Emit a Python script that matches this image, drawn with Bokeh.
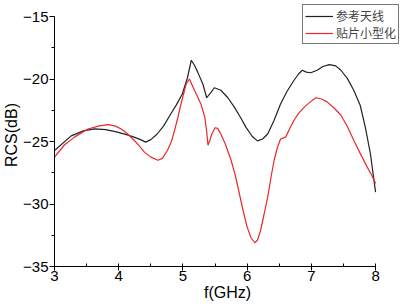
from bokeh.plotting import figure
from bokeh.models import Range1d, Legend, LegendItem, FixedTicker
from bokeh.embed import file_html
from bokeh.resources import INLINE

# Reference antenna (参考天线)
ref_f = [3.0, 3.26, 3.45, 3.62, 3.8, 3.98, 4.12, 4.24, 4.34, 4.42, 4.5, 4.6, 4.7, 4.81, 4.9, 4.99,
         5.07, 5.13, 5.18, 5.23, 5.31, 5.37, 5.44, 5.49, 5.59, 5.7, 5.8, 5.9, 5.98, 6.08, 6.16,
         6.24, 6.32, 6.42, 6.52, 6.62, 6.73, 6.8, 6.86, 6.92, 6.99, 7.09, 7.18, 7.28, 7.38, 7.46,
         7.56, 7.66, 7.76, 7.84, 7.92, 8.0]
ref_db = [-25.72, -24.55, -24.15, -23.99, -24.05, -24.25, -24.45, -24.65, -24.85, -25.05, -24.85, -24.4,
          -23.75, -22.8, -22.05, -21.2, -19.9, -18.5, -18.9, -19.45, -20.4, -21.5, -21.05, -20.7,
          -20.9, -21.5, -22.25, -23.1, -23.85, -24.6, -24.95, -24.8, -24.4, -23.3, -22.0, -21.0,
          -20.1, -19.6, -19.3, -19.45, -19.5, -19.3, -19.0, -18.85, -18.95, -19.3, -19.95, -20.9,
          -22.1, -23.85, -26.0, -29.05]

# Patch miniaturized (贴片小型化)
mini_f = [3.0, 3.15, 3.31, 3.52, 3.7, 3.83, 3.94, 4.04, 4.14, 4.24, 4.32, 4.4, 4.5, 4.61, 4.68,
          4.76, 4.82, 4.87, 4.92, 4.97, 5.05, 5.1, 5.18, 5.28, 5.34, 5.37, 5.39, 5.42, 5.45, 5.5,
          5.54, 5.59, 5.66, 5.75, 5.82, 5.88, 5.94, 6.0, 6.06, 6.12, 6.16, 6.21, 6.26, 6.32, 6.37,
          6.42, 6.47, 6.52, 6.6, 6.66, 6.73, 6.8, 6.89, 6.98, 7.07, 7.16, 7.25, 7.35, 7.46, 7.56,
          7.66, 7.76, 7.87, 7.94, 8.0]
mini_db = [-26.25, -25.3, -24.65, -24.0, -23.75, -23.65, -23.75, -24.0, -24.4, -24.9, -25.35, -25.85,
           -26.25, -26.5, -26.35, -25.7, -25.0, -24.1, -23.1, -22.0, -20.4, -20.0, -20.9, -22.0,
           -23.05, -24.2, -25.3, -24.9, -24.4, -23.9, -23.95, -24.4, -25.2, -26.5, -27.8, -29.2,
           -30.6, -31.85, -32.7, -33.1, -32.9, -32.1, -30.9, -29.45, -27.9, -26.5, -25.5, -24.8,
           -24.65, -24.0, -23.3, -22.75, -22.25, -21.85, -21.5, -21.6, -21.85, -22.3, -22.9, -23.8,
           -24.9, -25.95, -27.05, -27.7, -28.35]

x_ticks = [3, 4, 5, 6, 7, 8]
y_ticks = [-35, -30, -25, -20, -15]
labels = ["参考天线", "贴片小型化"]

p = figure(width=401, height=304, output_backend="svg", toolbar_location=None,
           x_range=Range1d(3, 8.388), y_range=Range1d(-35, -13.96),
           min_border_left=53, min_border_right=1, min_border_top=3, min_border_bottom=38)
p.outline_line_color = None
p.xgrid.visible = False
p.ygrid.visible = False
p.background_fill_color = "white"
p.border_fill_color = "white"

r1 = p.line(ref_f, ref_db, line_color="#222222", line_width=1.2)
r2 = p.line(mini_f, mini_db, line_color="#e8282b", line_width=1.2)

font = "Liberation Sans"
for ax in (p.xaxis[0], p.yaxis[0]):
    ax.major_label_text_font = font
    ax.major_label_text_font_size = "15px"
    ax.major_label_text_color = "black"
    ax.axis_label_text_font = font
    ax.axis_label_text_font_size = "16px"
    ax.axis_label_text_font_style = "normal"
    ax.axis_label_text_color = "black"
    ax.axis_line_color = "black"
    ax.major_tick_line_color = "black"
    ax.minor_tick_line_color = "black"

p.xaxis.bounds = (3, 8)
p.yaxis.bounds = (-35, -15)
p.xaxis.ticker = FixedTicker(ticks=x_ticks, minor_ticks=[3.5, 4.5, 5.5, 6.5, 7.5])
p.yaxis.ticker = FixedTicker(ticks=y_ticks, minor_ticks=[-32.5, -27.5, -22.5, -17.5])
p.xaxis.axis_label = "f(GHz)"
p.yaxis.axis_label = "RCS(dB)"
p.xaxis.major_tick_in = 3
p.xaxis.major_tick_out = 4
p.xaxis.minor_tick_in = 3
p.xaxis.minor_tick_out = 0
p.xaxis.major_label_standoff = 0
p.xaxis.axis_label_standoff = 0
p.yaxis.major_tick_in = 0
p.yaxis.major_tick_out = 5
p.yaxis.minor_tick_in = 0
p.yaxis.minor_tick_out = 3
p.yaxis.major_label_standoff = 1
p.yaxis.axis_label_standoff = 0

legend = Legend(items=[LegendItem(label=labels[0], renderers=[r1]),
                       LegendItem(label=labels[1], renderers=[r2])],
                location="top_right")
legend.label_text_font = "Noto Sans CJK SC"
legend.label_text_font_size = "12px"
legend.label_text_line_height = 1.0
legend.label_height = 12
legend.glyph_height = 12
legend.glyph_width = 28
legend.label_standoff = 3
legend.spacing = 0
legend.padding = 2
legend.margin = 1
legend.border_line_color = "#777777"
legend.border_line_width = 1
legend.border_line_alpha = 1
legend.background_fill_color = "white"
legend.background_fill_alpha = 1
p.add_layout(legend)

open("out.html", "w").write(file_html(p, INLINE))
